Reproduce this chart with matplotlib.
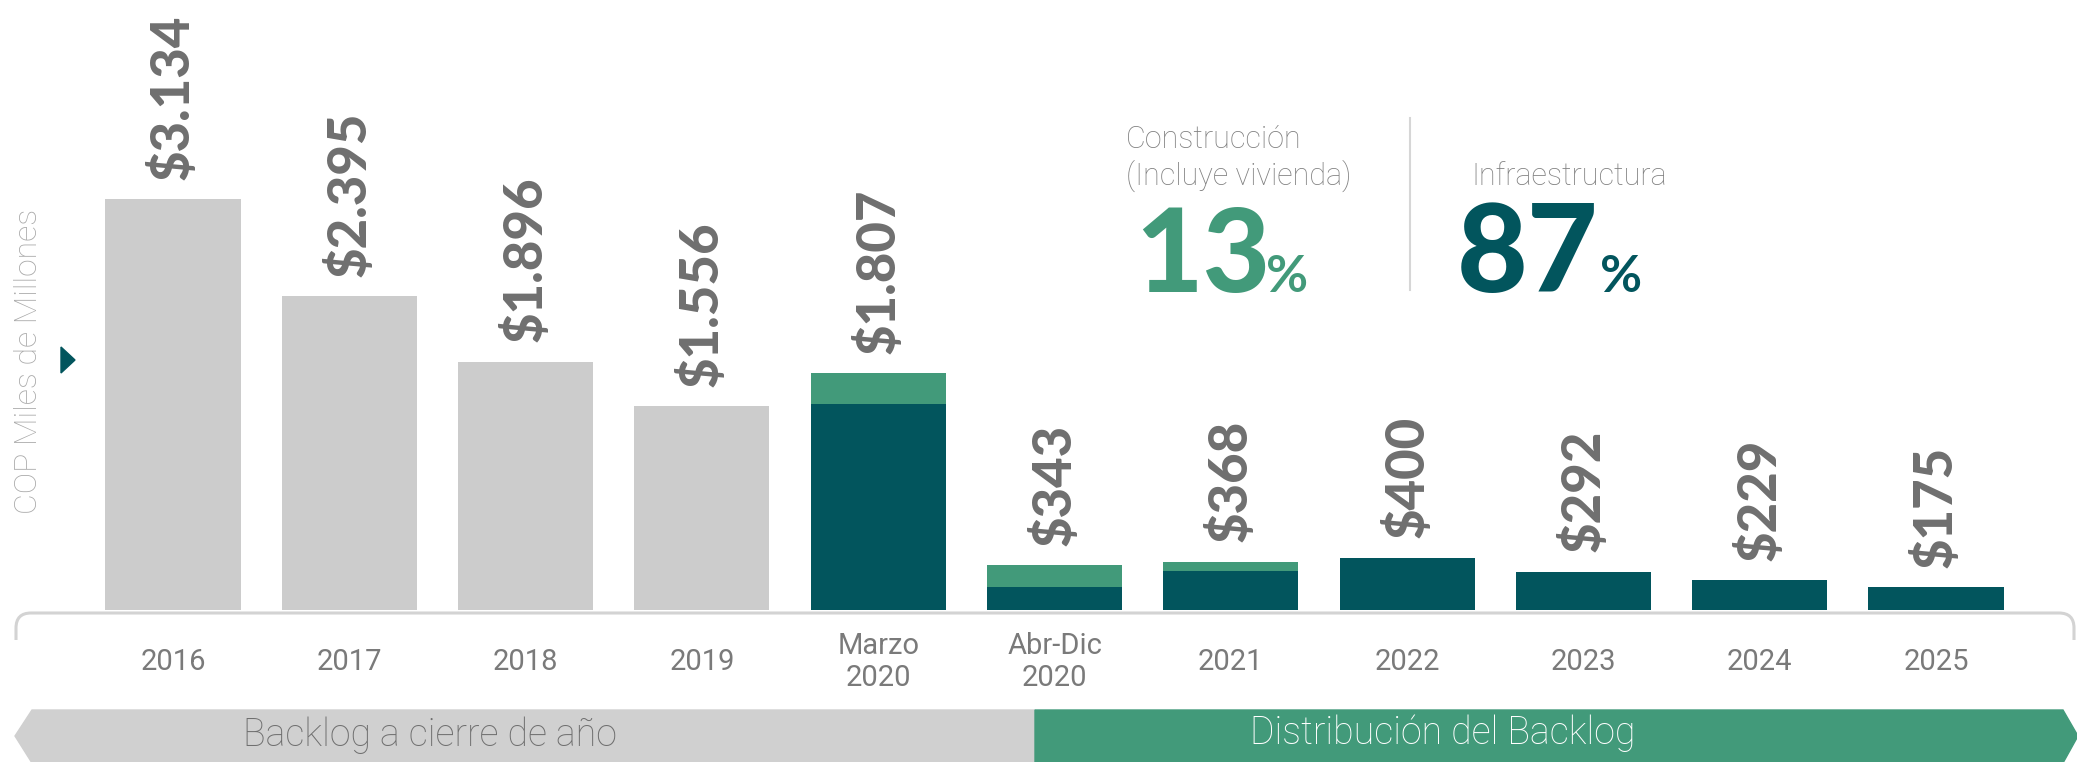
import matplotlib
matplotlib.use("Agg")
import matplotlib.pyplot as plt
from matplotlib.patches import Polygon, PathPatch
from matplotlib.path import Path
from matplotlib.lines import Line2D

plt.rcParams["font.family"] = ["Roboto", "DejaVu Sans"]

# --- datos ---
categories = ["2016", "2017", "2018", "2019", "Marzo\n2020", "Abr-Dic\n2020",
              "2021", "2022", "2023", "2024", "2025"]
totals = [3134, 2395, 1896, 1556, 1807, 343, 368, 400, 292, 229, 175]
value_labels = ["$3.134", "$2.395", "$1.896", "$1.556", "$1.807", "$343",
                "$368", "$400", "$292", "$229", "$175"]
# backlog histórico (gris) vs. distribución por segmento
historic = [True, True, True, True, False, False, False, False, False, False, False]
construccion = [0, 0, 0, 0, 235, 165, 70, 0, 0, 0, 0]
infraestructura = [t - c for t, c in zip(totals, construccion)]

share_construccion = 13
share_infra = 87

GRAY_BAR = "#cccccc"
GREEN = "#429a7a"
TEAL = "#02555d"
TXT = "#6f6f6f"

W, H = 2077, 762


def fx(px):
    return px / W


def fy(py):
    return 1 - py / H


fig = plt.figure(figsize=(W / 100, H / 100), dpi=100)

# barras
ax = fig.add_axes([fx(67.2), fy(610), fx(2041.8) - fx(67.2), 610 / H])
x = list(range(len(categories)))
bw = 0.766
for i in x:
    if historic[i]:
        ax.bar(i, totals[i], width=bw, color=GRAY_BAR)
    else:
        ax.bar(i, infraestructura[i], width=bw, color=TEAL)
        ax.bar(i, construccion[i], width=bw, bottom=infraestructura[i], color=GREEN)

for i, lbl in enumerate(value_labels):
    ax.annotate(lbl, (i, totals[i]), xytext=(0, 14), textcoords="offset points",
                rotation=90, ha="center", va="bottom", fontsize=38,
                family=["Lato", "DejaVu Sans"], fontweight="black", color=TXT)

ax.set_xlim(-0.6, 10.6)
ax.set_ylim(0, 4656)
ax.set_xticks(x)
ax.set_xticklabels(categories, fontsize=21, color="#7a7a7a")
ax.tick_params(axis="x", length=0, pad=37.4)
for t in ax.get_xticklabels():
    t.set_va("center")
    t.set_linespacing(1.15)
ax.set_yticks([])
for s in ax.spines.values():
    s.set_visible(False)
ax.patch.set_alpha(0)

# eje y
fig.text(fx(29), fy(361), "COP Miles de Millones", rotation=90, ha="center",
         va="center", fontsize=23, fontweight="light", color="#a9a9a9")
fig.add_artist(Polygon([(fx(61), fy(347)), (fx(75), fy(360)), (fx(61), fy(373))],
                       closed=True, color=TEAL, transform=fig.transFigure))

# línea en corchete bajo las barras
pts = [(16, 640), (16, 628), (16, 613), (31, 613), (2059, 613),
       (2074, 613), (2074, 628), (2074, 640)]
codes = [Path.MOVETO, Path.LINETO, Path.CURVE3, Path.CURVE3, Path.LINETO,
         Path.CURVE3, Path.CURVE3, Path.LINETO]
bracket = Path([(fx(a), fy(b)) for a, b in pts], codes)
fig.add_artist(PathPatch(bracket, fill=False, edgecolor="#d3d3d3", lw=2.2,
                         transform=fig.transFigure))

# bandas inferiores
gray_band = [(32, 710), (1035, 710), (1035, 763), (32, 763), (15, 736)]
green_band = [(1035, 710), (2063, 710), (2078, 736), (2063, 763), (1035, 763)]
fig.add_artist(Polygon([(fx(a), fy(b)) for a, b in gray_band], closed=True,
                       color="#d0d0d0", transform=fig.transFigure))
fig.add_artist(Polygon([(fx(a), fy(b)) for a, b in green_band], closed=True,
                       color=GREEN, transform=fig.transFigure))
fig.text(fx(430), fy(735), "Backlog a cierre de año", ha="center", va="center",
         fontsize=27, fontweight="light", color="#6f6f6f")
fig.text(fx(1443), fy(733), "Distribución del Backlog", ha="center", va="center",
         fontsize=27, fontweight="light", color="white")

# participación
fig.text(fx(1126), fy(148), "Construcción", ha="left", va="baseline",
         fontsize=22, fontweight="light", color="#808080")
fig.text(fx(1126), fy(185), "(Incluye vivienda)", ha="left", va="baseline",
         fontsize=22, fontweight="light", color="#808080")
fig.text(fx(1135), fy(292), f"{share_construccion}", ha="left", va="baseline",
         fontsize=84, family=["Lato", "DejaVu Sans"], fontweight="black", color=GREEN)
fig.text(fx(1266), fy(292), "%", ha="left", va="baseline",
         fontsize=37, family=["Lato", "DejaVu Sans"], fontweight="bold", color=GREEN)

fig.add_artist(Line2D([fx(1410), fx(1410)], [fy(118), fy(290)], color="#d6d6d6",
                      lw=1.5, transform=fig.transFigure))

fig.text(fx(1471), fy(185), "Infraestructura", ha="left", va="baseline",
         fontsize=22, fontweight="light", color="#808080")
fig.text(fx(1457), fy(292), f"{share_infra}", ha="left", va="baseline",
         fontsize=88, family=["Lato", "DejaVu Sans"], fontweight="black", color=TEAL)
fig.text(fx(1600), fy(292), "%", ha="left", va="baseline",
         fontsize=37, family=["Lato", "DejaVu Sans"], fontweight="bold", color=TEAL)

fig.savefig("out.png", dpi=100)
plt.close(fig)
